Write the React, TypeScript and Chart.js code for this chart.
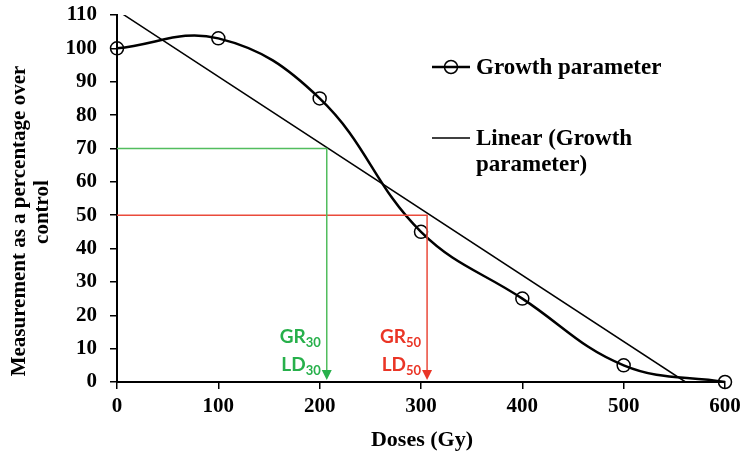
import React, { useEffect, useRef } from "react";
import { Chart, registerables } from "chart.js";

Chart.register(...registerables);

const doses = [0, 100, 200, 300, 400, 500, 600];
const growth = [100, 103, 85, 45, 25, 5, 0];
const linearDoses = [0, 561];
const linearValues = [111.4, 0];
const thresholdLevels = [70, 50];
const thresholdDoses = [207, 306];
const thresholdNames = ["30", "50"];
const xTicks = [0, 100, 200, 300, 400, 500, 600];
const yMax = 110;

const GREEN_LINE = "#52bd5e";
const GREEN_TEXT = "#27b04b";
const RED_LINE = "#ea4a3b";
const RED_TEXT = "#ea3526";
const SERIF = "'Liberation Serif', 'Times New Roman', serif";
const SANS = "Lato, 'Open Sans', sans-serif";

export default function App() {
  const ref = useRef<HTMLCanvasElement | null>(null);

  useEffect(() => {
    const canvas = ref.current;
    if (!canvas) return;

    const overlay = {
      id: "overlay",
      afterDatasetsDraw(chart: any) {
        const ctx = chart.ctx;
        const xs = chart.scales.x;
        const ys = chart.scales.y;
        ctx.save();
        const colors = [GREEN_TEXT, RED_TEXT];
        thresholdDoses.forEach((d, i) => {
          const px = xs.getPixelForValue(d);
          const py = ys.getPixelForValue(0) - 2;
          ctx.fillStyle = colors[i];
          ctx.beginPath();
          ctx.moveTo(px, py);
          ctx.lineTo(px - 5, py - 10);
          ctx.lineTo(px + 5, py - 10);
          ctx.closePath();
          ctx.fill();
          const right = px - 6;
          const lines = [["GR", 343], ["LD", 371]] as const;
          lines.forEach(([main, base]) => {
            ctx.font = `bold 19px ${SANS}`;
            const mw = ctx.measureText(main).width;
            ctx.font = `bold 13px ${SANS}`;
            const sw = ctx.measureText(thresholdNames[i]).width;
            const start = right - mw - sw;
            ctx.textBaseline = "alphabetic";
            ctx.textAlign = "left";
            ctx.font = `bold 19px ${SANS}`;
            ctx.fillText(main, start, base);
            ctx.font = `bold 13px ${SANS}`;
            ctx.fillText(thresholdNames[i], start + mw, base + 4);
          });
        });
        ctx.restore();
      },
      afterDraw(chart: any) {
        const ctx = chart.ctx;
        ctx.save();
        ctx.fillStyle = "#000";
        ctx.strokeStyle = "#000";
        ctx.font = `bold 22px ${SERIF}`;
        ctx.textAlign = "center";
        ctx.textBaseline = "middle";
        ctx.fillText("Doses (Gy)", 422, 440);
        ctx.font = `bold 21px ${SERIF}`;
        ctx.save();
        ctx.translate(20, 221);
        ctx.rotate(-Math.PI / 2);
        ctx.fillText("Measurement as a percentage over", 0, 0);
        ctx.restore();
        ctx.save();
        ctx.translate(43, 212);
        ctx.rotate(-Math.PI / 2);
        ctx.fillText("control", 0, 0);
        ctx.restore();
        ctx.lineWidth = 2.5;
        ctx.beginPath();
        ctx.moveTo(432, 67);
        ctx.lineTo(470, 67);
        ctx.stroke();
        ctx.lineWidth = 1.5;
        ctx.beginPath();
        ctx.arc(451, 67, 6.5, 0, Math.PI * 2);
        ctx.stroke();
        ctx.beginPath();
        ctx.moveTo(432, 138);
        ctx.lineTo(470, 138);
        ctx.stroke();
        ctx.font = `bold 23px ${SERIF}`;
        ctx.textAlign = "left";
        ctx.fillText("Growth parameter", 476, 68);
        ctx.fillText("Linear (Growth", 476, 139);
        ctx.fillText("parameter)", 476, 165);
        ctx.restore();
      },
    };

    const chart = new Chart(canvas, {
      type: "line",
      data: {
        datasets: [
          {
            label: "green",
            data: [
              { x: 0, y: thresholdLevels[0] },
              { x: thresholdDoses[0], y: thresholdLevels[0] },
              { x: thresholdDoses[0], y: 3 },
            ],
            borderColor: GREEN_LINE,
            borderWidth: 1.5,
            pointRadius: 0,
            tension: 0,
          },
          {
            label: "red",
            data: [
              { x: 0, y: thresholdLevels[1] },
              { x: thresholdDoses[1], y: thresholdLevels[1] },
              { x: thresholdDoses[1], y: 3 },
            ],
            borderColor: RED_LINE,
            borderWidth: 1.5,
            pointRadius: 0,
            tension: 0,
          },
          {
            label: "Linear (Growth parameter)",
            data: linearDoses.map((x, i) => ({ x, y: linearValues[i] })),
            borderColor: "#000",
            borderWidth: 1.5,
            pointRadius: 0,
            tension: 0,
          },
          {
            label: "Growth parameter",
            data: doses.map((x, i) => ({ x, y: growth[i] })),
            borderColor: "#000",
            borderWidth: 2.5,
            pointRadius: 6.5,
            pointBorderWidth: 1.5,
            pointBackgroundColor: "rgba(0,0,0,0)",
            pointBorderColor: "#000",
            tension: 0.4,
            clip: false as any,
          },
        ],
      },
      options: {
        responsive: false,
        animation: false,
        devicePixelRatio: 1,
        layout: { padding: { top: 15, right: 18, left: 0, bottom: 0 } },
        plugins: {
          legend: { display: false },
          tooltip: { enabled: false },
          title: { display: false },
        },
        scales: {
          x: {
            type: "linear",
            min: 0,
            max: 600,
            afterBuildTicks: (s: any) => {
              s.ticks = xTicks.map((v) => ({ value: v }));
            },
            afterFit: (s: any) => {
              s.height = 75;
              s.paddingLeft = 0;
              s.paddingRight = 0;
            },
            ticks: {
              color: "#000",
              font: { family: SERIF, size: 21, weight: "bold" },
              padding: 5,
              maxRotation: 0,
            },
            grid: {
              drawOnChartArea: false,
              drawTicks: true,
              tickLength: 7,
              color: "#000",
              lineWidth: 1.5,
            },
            border: { display: true, color: "#000", width: 2 },
          },
          y: {
            type: "linear",
            min: 0,
            max: yMax,
            afterFit: (s: any) => {
              s.width = 117;
              s.paddingTop = 0;
              s.paddingBottom = 0;
            },
            ticks: {
              stepSize: 10,
              color: "#000",
              font: { family: SERIF, size: 21, weight: "bold" },
              padding: 13,
            },
            grid: {
              drawOnChartArea: false,
              drawTicks: true,
              tickLength: 7,
              color: "#000",
              lineWidth: 1.5,
            },
            border: { display: true, color: "#000", width: 2 },
          },
        },
      } as any,
      plugins: [overlay],
    });

    return () => chart.destroy();
  }, []);

  return (
    <div style={{ position: "absolute", left: 0, top: 0, width: 743, height: 457, background: "#fff" }}>
      <canvas ref={ref} width={743} height={457} />
    </div>
  );
}
